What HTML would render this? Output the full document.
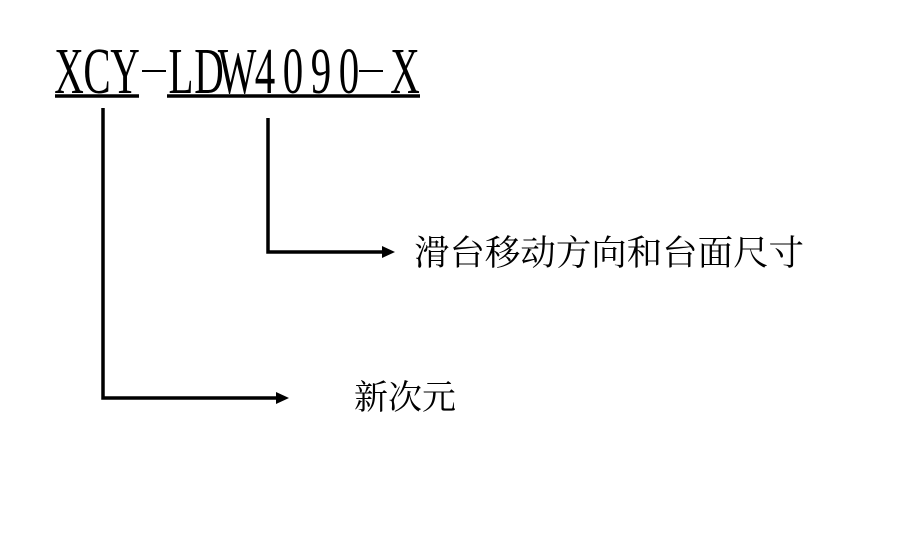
<!DOCTYPE html>
<html><head><meta charset="utf-8"><style>
html,body{margin:0;padding:0;background:#fff;}
</style></head><body>
<svg width="900" height="535" xmlns="http://www.w3.org/2000/svg">
<rect width="900" height="535" fill="#fff"/>
<g transform="scale(0.62,1)" font-family="Liberation Serif, serif" font-size="66" fill="#000" text-anchor="middle">
<text y="93" x="111.3 156.5 201.6 291.9 337.1 382.3 427.4 472.6 517.7 562.9 653.2">XCYLDW4090X</text>
</g>
<rect x="142" y="70" width="24" height="2" fill="#000"/>
<rect x="359" y="70" width="24" height="2" fill="#000"/>
<line x1="55" y1="96" x2="139" y2="96" stroke="#000" stroke-width="3.5"/>
<line x1="167" y1="96" x2="420" y2="96" stroke="#000" stroke-width="3.5"/>
<polyline points="103,108 103,398 278,398" fill="none" stroke="#000" stroke-width="3.5"/>
<polygon points="276,392 289,398 276,404" fill="#000"/>
<polyline points="268,118 268,252 384,252" fill="none" stroke="#000" stroke-width="3.5"/>
<polygon points="382,246 395,252 382,258" fill="#000"/>
<text x="414" y="265" font-family="Liberation Serif, Noto Serif CJK SC, serif" font-size="35" textLength="390" lengthAdjust="spacingAndGlyphs" fill="#000">滑台移动方向和台面尺寸</text>
<text x="354" y="409" font-family="Liberation Serif, Noto Serif CJK SC, serif" font-size="34" textLength="102" lengthAdjust="spacingAndGlyphs" fill="#000">新次元</text>
</svg>
</body></html>
